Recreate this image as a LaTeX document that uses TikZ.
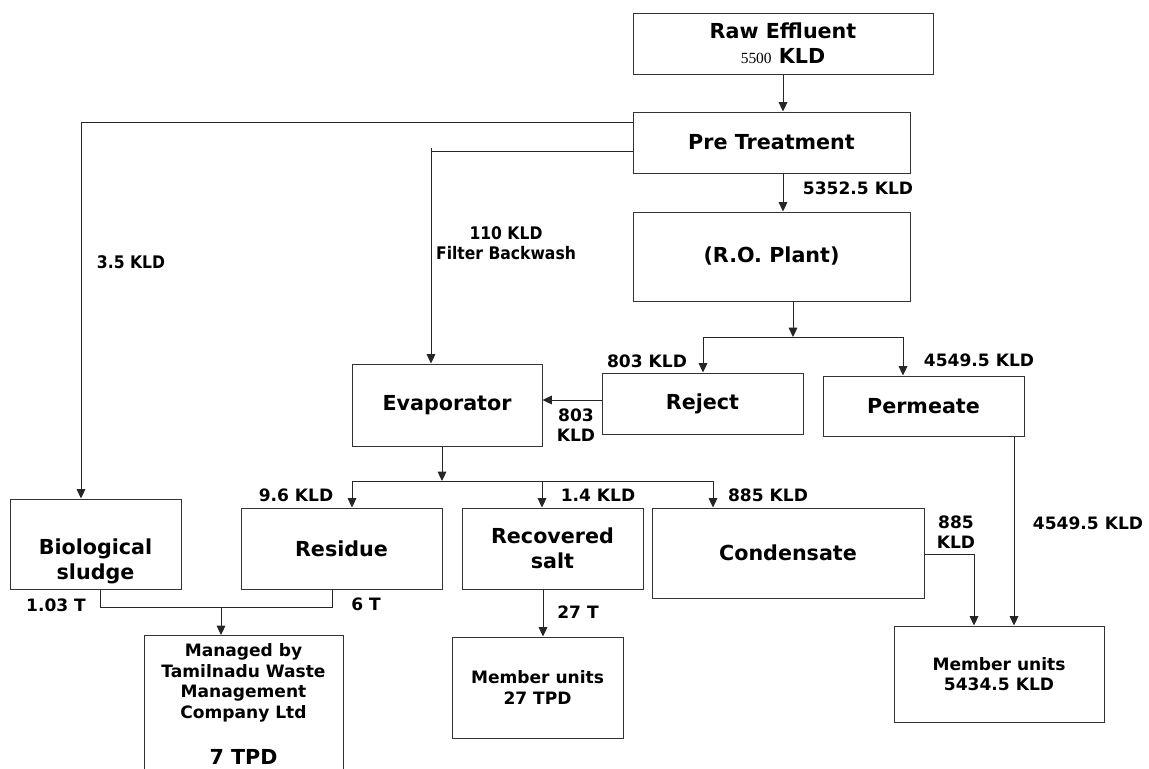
\documentclass[tikz,border=0pt]{standalone}
\usepackage{fontspec}
\setmainfont{DejaVu Sans}
\newfontfamily\condfont{DejaVu Sans Condensed}
\newfontfamily\timesfont{Liberation Serif}
\usepackage{tikz}
\usetikzlibrary{positioning}
\usetikzlibrary{calc}
\usetikzlibrary{arrows.meta}

\begin{document}
\begin{tikzpicture}[
            x=0.75pt,y=-0.75pt,
            box/.style 2 args={rectangle,draw=black!80,line width=0.75pt,fill=white,inner sep=2pt,align=center,
                minimum width=#1*0.75pt,minimum height=#2*0.75pt},
            title/.style={font=\fontsize{15.5}{19}\selectfont\bfseries},
            small/.style={font=\fontsize{12.8}{15.5}\selectfont\bfseries},
            qty/.style={font=\fontsize{12.8}{15.5}\selectfont\bfseries,inner sep=0pt,align=center},
            note/.style={font=\condfont\fontsize{13}{15}\selectfont\bfseries,inner sep=0pt,align=center},
            wire/.style={draw=black!85,line width=0.75pt},
            flow/.style={wire,-{Triangle[length=7pt,width=6.5pt]}},
        ]
            \useasboundingbox (0,0) rectangle (1149,768);

            %--- Process boxes ---%
            \node[box={300}{61},title] (raw) at (783,43.5) {Raw Effluent\\{\timesfont\mdseries\fontsize{11.6}{14}\selectfont 5500} KLD};
            \node[box={277}{61},title] (pre) at (771.5,142.5) {Pre Treatment};
            \node[box={277}{89},title] (ro) at (771.5,256.5) {(R.O. Plant)};
            \node[box={190}{82},title] (evap) at (447,405) {Evaporator};
            \node[box={201}{61},title] (reject) at (702.5,403.5) {Reject};
            \node[box={201}{60},title] (perm) at (923.5,406) {Permeate};
            \node[box={171}{90},title,
                label={[title,align=center,yshift=-13pt]center:{Biological\\sludge}}] (bio) at (95.5,544) {};
            \node[box={201}{81},title] (residue) at (341.5,548.5) {Residue};
            \node[box={181}{81},title] (salt) at (552.5,548.5) {Recovered\\salt};
            \node[box={272}{90},title] (cond) at (788,553) {Condensate};
            \node[box={199}{10},small,anchor=north,inner ysep=6pt] (managed) at (243.5,635)
                {Managed by\\Tamilnadu Waste\\Management\\Company Ltd\\[19pt]{\fontsize{15.5}{19}\selectfont 7 TPD}\\[-6pt]~};
            \node[box={171}{101},small] (memmid) at (537.5,687.5) {Member units\\27 TPD};
            \node[box={210}{96},small] (memright) at (999,674) {Member units\\5434.5 KLD};

            %--- Connector positions ---%
            \coordinate (xm) at (783,0);
            \coordinate (sl) at (81,122);
            \coordinate (bw) at (431,151);
            \coordinate (rb) at (793,337);
            \coordinate (rl) at (703,337);
            \coordinate (rr) at (903,337);
            \coordinate (rj) at (0,400);
            \coordinate (eb) at (442,481);
            \coordinate (el) at (352,481);
            \coordinate (em) at (542,481);
            \coordinate (er) at (713,481);
            \coordinate (ss) at (543,0);
            \coordinate (bo) at (100,607);
            \coordinate (rs) at (332,607);
            \coordinate (mi) at (221,607);
            \coordinate (co) at (974,554);
            \coordinate (po) at (1014,0);

            %--- Main line ---%
            \draw[flow] (raw.south -| xm) -- (pre.north -| xm);
            \draw[flow] (pre.south -| xm) -- (ro.north -| xm);

            %--- Side streams from pre treatment ---%
            \draw[flow] (pre.west |- sl) -| (bio.north -| sl);
            \draw[wire] (pre.west |- bw) -- (bw);
            \draw[flow] ([yshift=2pt]bw) -- (evap.north -| bw);

            %--- R.O. split ---%
            \draw[flow] (ro.south -| rb) -- (rb);
            \draw[wire] (rl) -- (rr);
            \draw[flow] (rl) -- (reject.north -| rl);
            \draw[flow] (rr) -- (perm.north -| rr);
            \draw[flow] (reject.west |- rj) -- (evap.east |- rj);

            %--- Evaporator split ---%
            \draw[flow] (evap.south -| eb) -- (eb);
            \draw[wire] (el) -- (er);
            \draw[flow] (el) -- (residue.north -| el);
            \draw[flow] (em) -- (salt.north -| em);
            \draw[flow] (er) -- (cond.north -| er);

            %--- To the end users ---%
            \draw[wire] (bio.south -| bo) -- (bo) -- (rs) -- (residue.south -| rs);
            \draw[flow] (mi) -- (managed.north -| mi);
            \draw[flow] (salt.south -| ss) -- (memmid.north -| ss);
            \draw[flow] (cond.east |- co) -| (memright.north -| co);
            \draw[flow] (perm.south -| po) -- (memright.north -| po);

            %--- Flow quantities ---%
            \node[qty] (q1) at (858,188) {5352.5 KLD};
            \node[note] (q2) at (131,262) {3.5 KLD};
            \node[note] (q3) at (506,243) {110 KLD\\Filter Backwash};
            \node[qty] (q4) at (647,361) {803 KLD};
            \node[qty] (q5) at (979,360) {4549.5 KLD};
            \node[qty] (q6) at (576,425) {803\\KLD};
            \node[qty] (q7) at (296,495) {9.6 KLD};
            \node[qty] (q8) at (598,495) {1.4 KLD};
            \node[qty] (q9) at (768,495) {885 KLD};
            \node[qty] (q10) at (956,532) {885\\KLD};
            \node[qty] (q11) at (1088,523) {4549.5 KLD};
            \node[qty] (q12) at (56,605) {1.03 T};
            \node[qty] (q13) at (366,604) {6 T};
            \node[qty] (q14) at (578,612) {27 T};

        \end{tikzpicture}
\end{document}
